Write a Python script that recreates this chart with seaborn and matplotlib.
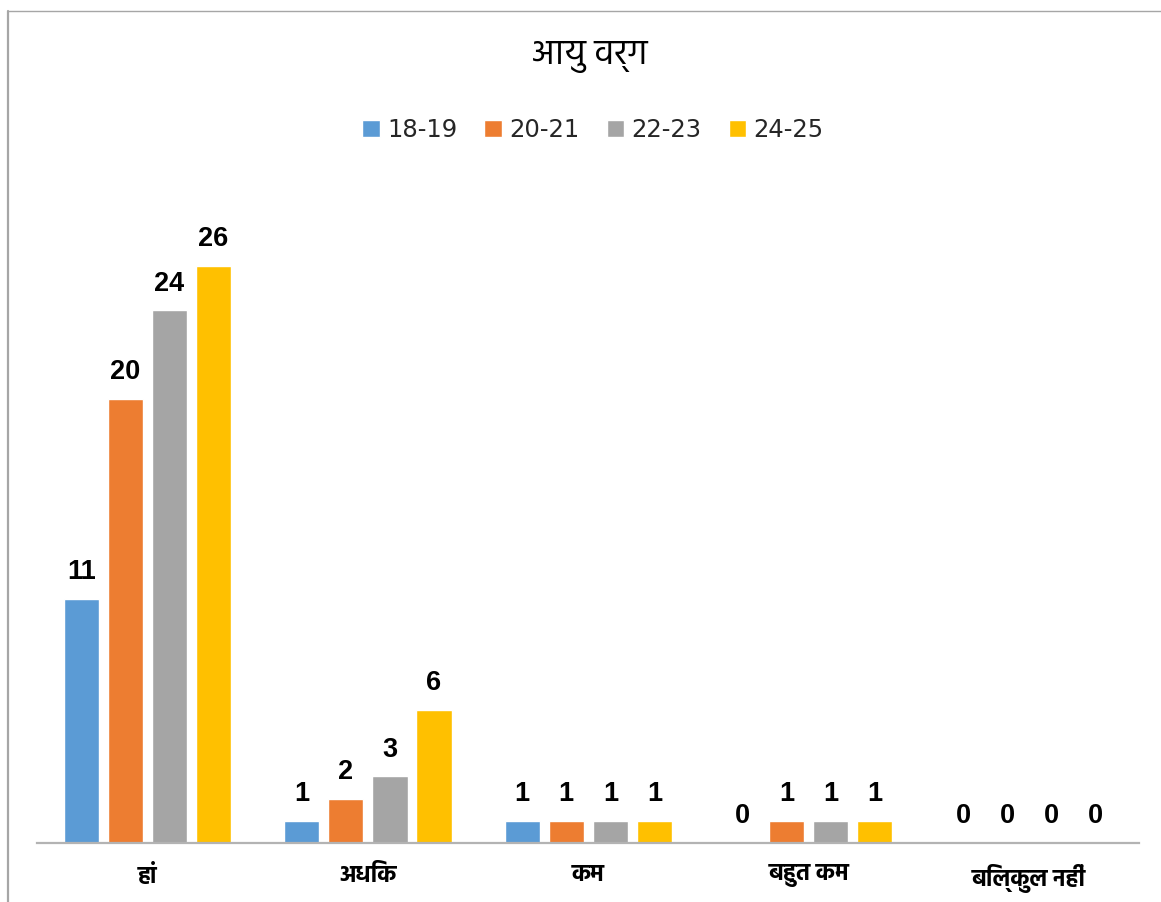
import matplotlib
matplotlib.use("Agg")
import matplotlib.pyplot as plt
from matplotlib.lines import Line2D
import seaborn as sns
import pandas as pd

# ---- data ----
categories = ["हां", "अधिक", "कम", "बहुत कम", "बिल्कुल नहीं"]
age_groups = ["18-19", "20-21", "22-23", "24-25"]
vals_18_19 = [11, 1, 1, 0, 0]
vals_20_21 = [20, 2, 1, 1, 0]
vals_22_23 = [24, 3, 1, 1, 0]
vals_24_25 = [26, 6, 1, 1, 0]
colors = ["#5B9BD5", "#ED7D31", "#A5A5A5", "#FFC000"]
title = "आयु वर्ग"

series = [vals_18_19, vals_20_21, vals_22_23, vals_24_25]
rows = []
for g, vals in zip(age_groups, series):
    for c, v in zip(categories, vals):
        rows.append({"category": c, "age": g, "count": v})
df = pd.DataFrame(rows)

sns.set_theme(style="white")
deva = ["Hind", "Noto Sans Devanagari", "DejaVu Sans"]
plt.rcParams["font.family"] = deva

W, H = 1161, 902
fig = plt.figure(figsize=(W / 100, H / 100), dpi=100)
ax = fig.add_axes([37.3 / W, 59 / H, (1139.3 - 37.3) / W, (843 - 177.3) / H])

sns.barplot(data=df, x="category", y="count", hue="age", order=categories,
            hue_order=age_groups, palette=colors, saturation=1,
            width=0.8, gap=0.2, ax=ax, legend=True)

ax.set_ylim(0, 30)
ax.set_xlim(-0.5, len(categories) - 0.5)
ax.set_xlabel("")
ax.set_ylabel("")
ax.set_yticks([])
for s in ["top", "right", "left"]:
    ax.spines[s].set_visible(False)
ax.spines["bottom"].set_color("#b3b3b3")
ax.spines["bottom"].set_linewidth(1.6)
ax.tick_params(axis="x", length=0, pad=15)
for lbl in ax.get_xticklabels():
    lbl.set_fontsize(17)
    lbl.set_fontweight("bold")
    lbl.set_family(deva)
    lbl.set_color("black")

for cont in ax.containers:
    ax.bar_label(cont, padding=10, fontsize=19.5, fontweight="bold",
                 family=["Liberation Sans", "DejaVu Sans"], color="black")

handles, labels = ax.get_legend_handles_labels()
ax.get_legend().remove()
fig.legend(handles, labels, loc="center", bbox_to_anchor=(593 / W, 1 - 130 / H),
           ncol=4, frameon=False, prop={"family": "DejaVu Sans", "size": 17.5},
           handlelength=0.72, handleheight=0.72, handletextpad=0.3,
           columnspacing=1.12, borderpad=0)

fig.text(590 / W, 1 - 64 / H, title, ha="center", va="baseline",
         fontsize=25, family=deva, color="black")

# outer chart border (top and left visible)
fig.add_artist(Line2D([7.5 / W, 7.5 / W], [0, 1 - 11 / H], transform=fig.transFigure,
                      color="#a6a6a6", lw=1.6))
fig.add_artist(Line2D([7.5 / W, 1], [1 - 11 / H, 1 - 11 / H], transform=fig.transFigure,
                      color="#a6a6a6", lw=1.0))

fig.savefig("out.png", dpi=100)
